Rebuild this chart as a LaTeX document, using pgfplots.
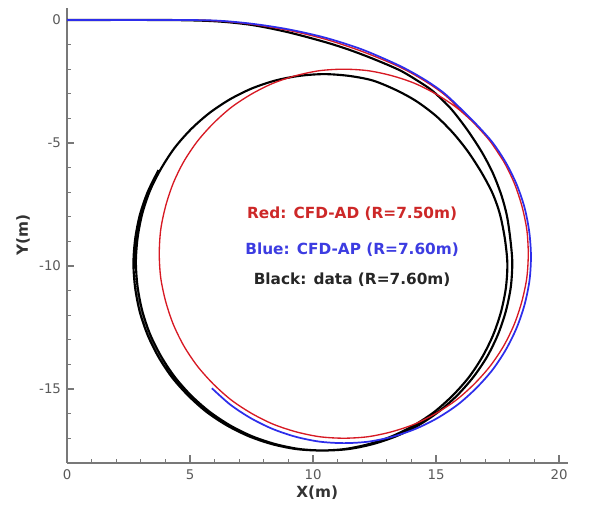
\documentclass[border=0pt]{standalone}
\usepackage{pgfplots}
\pgfplotsset{compat=1.18}
\usepackage{fontspec}
\setmainfont{DejaVu Sans}
\definecolor{cred}{RGB}{215,25,35}
\definecolor{cblue}{RGB}{45,45,235}
\definecolor{lred}{RGB}{205,40,40}
\definecolor{lblue}{RGB}{60,60,225}
\definecolor{axgray}{RGB}{120,120,120}
\begin{document}
\begin{tikzpicture}
\begin{axis}[
  x=18.45pt, y=18.45pt,
  xmin=0, xmax=20.35, ymin=-18, ymax=0.5,
  axis x line=bottom, axis y line=left,
  axis line style={-, line width=1.5pt, axgray},
  clip=false,
  xtick={0,5,10,15,20}, minor xtick={1,2,3,4,6,7,8,9,11,12,13,14,16,17,18,19},
  ytick={-15,-10,-5,0}, minor ytick={-17,-16,-14,-13,-12,-11,-9,-8,-7,-6,-4,-3,-2,-1},
  tick align=inside,
  major tick length=5.5pt, minor tick length=3pt,
  every tick/.style={line width=1pt, axgray},
  tick label style={font=\fontsize{10}{12}\selectfont, text=black!65},
  /pgf/number format/assume math mode=true,
  xticklabel style={yshift=-1.5pt},
  yticklabel style={xshift=-1pt},
  every axis x label/.style={at={(axis description cs:0.5,0)}, anchor=center, yshift=-22.5pt},
  every axis y label/.style={at={(axis description cs:0,0.5)}, xshift=-33pt, rotate=90, anchor=center},
  label style={font=\bfseries\fontsize{11.5}{13}\selectfont, text=black!80},
  xlabel={X(m)}, ylabel={Y(m)},
]
% Black: data
\addplot[black, line width=1.6pt, smooth] coordinates {
(0,0) (4,0) (6,-0.05) (7.5,-0.2) (9,-0.5) (10.5,-0.9) (11.5,-1.22) (12.5,-1.6)
(13.54,-2.05) (14.3,-2.5) (14.88,-2.9) (15.6,-3.6) (16.26,-4.45) (16.85,-5.35)
(17.3,-6.2) (17.65,-7.1) (17.88,-7.95) (18.02,-8.9) (18.10,-9.85)
(18.04,-10.85) (17.84,-11.83) (17.52,-12.78) (17.08,-13.68) (16.52,-14.51)
(15.86,-15.26) (15.11,-15.92) (14.28,-16.48) (13.38,-16.92) (12.43,-17.24)
(11.45,-17.44) (10.45,-17.50) (9.45,-17.44) (8.47,-17.24) (7.52,-16.92)
(6.63,-16.48) (5.79,-15.92) (5.04,-15.26) (4.38,-14.51) (3.83,-13.68)
(3.38,-12.78) (3.06,-11.83) (2.87,-10.85) (2.80,-9.85) (2.87,-8.85)
(3.06,-7.87) (3.38,-6.92) (3.83,-6.03) (4.38,-5.19) (5.04,-4.44) (5.79,-3.78)
(6.63,-3.22) (7.52,-2.78) (8.47,-2.46) (9.45,-2.27) (10.45,-2.20) (11.45,-2.27)
(12.43,-2.46) (13.38,-2.85) (14.2,-3.3) (15.0,-3.9) (15.7,-4.6) (16.3,-5.35)
(16.85,-6.2) (17.3,-7.05) (17.6,-7.9) (17.8,-8.9) (17.9,-9.9)
(17.84,-10.89) (17.64,-11.87) (17.32,-12.81) (16.88,-13.70) (16.33,-14.53)
(15.67,-15.27) (14.93,-15.93) (14.10,-16.48) (13.21,-16.92) (12.27,-17.24)
(11.29,-17.44) (10.30,-17.50) (9.31,-17.44) (8.33,-17.24) (7.39,-16.92)
(6.50,-16.48) (5.67,-15.93) (4.93,-15.27) (4.27,-14.53) (3.72,-13.70)
(3.28,-12.81) (2.96,-11.87) (2.77,-10.89) (2.70,-9.90) (2.77,-8.91)
(2.96,-7.93) (3.28,-6.99) (3.72,-6.10)
};
% Red: CFD-AD
\addplot[cred, line width=1pt, smooth] coordinates {
(0,0) (4,0) (6,-0.03) (7.5,-0.17) (9,-0.42) (10.5,-0.78) (12,-1.28) (13.5,-1.9)
(14.5,-2.45) (15.3,-3.0) (16.0,-3.65) (16.55,-4.20) (17.20,-4.93) (17.75,-5.75)
(18.18,-6.63) (18.49,-7.56) (18.69,-8.52) (18.75,-9.50) (18.69,-10.48)
(18.49,-11.44) (18.18,-12.37) (17.75,-13.25) (17.20,-14.07) (16.55,-14.80)
(15.82,-15.45) (15.00,-15.99) (14.12,-16.43) (13.19,-16.74) (12.23,-16.94)
(11.25,-17.00) (10.27,-16.94) (9.31,-16.74) (8.38,-16.43) (7.50,-15.99)
(6.68,-15.45) (5.95,-14.80) (5.30,-14.07) (4.75,-13.25) (4.32,-12.37)
(4.01,-11.44) (3.81,-10.48) (3.75,-9.50) (3.81,-8.52) (4.01,-7.56) (4.32,-6.63)
(4.75,-5.75) (5.30,-4.93) (5.95,-4.20) (6.68,-3.55) (7.50,-3.01) (8.38,-2.57)
(9.31,-2.26) (10.27,-2.06) (11.25,-2.00) (12.23,-2.06) (13.19,-2.26)
(14.12,-2.57) (15.00,-3.01) (15.82,-3.55) (16.55,-4.20) (17.20,-4.93)
(17.75,-5.75)
};
% Blue: CFD-AP
\addplot[cblue, line width=1.3pt, smooth] coordinates {
(0,0) (4,0) (6,-0.02) (7.5,-0.15) (9,-0.38) (10.5,-0.72) (12,-1.2) (13.5,-1.85)
(14.5,-2.4) (15.3,-2.95) (16.0,-3.6) (16.63,-4.23) (17.29,-4.97) (17.84,-5.80)
(18.28,-6.69) (18.60,-7.63) (18.79,-8.61) (18.86,-9.60) (18.80,-10.59)
(18.60,-11.57) (18.28,-12.51) (17.84,-13.40) (17.29,-14.23) (16.63,-14.97)
(15.89,-15.63) (15.06,-16.18) (14.17,-16.62) (13.23,-16.94) (12.25,-17.14)
(11.26,-17.20) (10.27,-17.14) (9.29,-16.94) (8.35,-16.62) (7.46,-16.18)
(6.63,-15.63) (5.89,-14.97)
};
\node[text=lred, font=\bfseries\fontsize{11.5}{13}\selectfont] at (axis cs:11.59,-7.89) {Red: CFD-AD (R=7.50m)};
\node[text=lblue, font=\bfseries\fontsize{11.5}{13}\selectfont] at (axis cs:11.59,-9.32) {Blue: CFD-AP (R=7.60m)};
\node[text=black!85, font=\bfseries\fontsize{11.5}{13}\selectfont] at (axis cs:11.59,-10.57) {Black: data (R=7.60m)};
\coordinate (bbA) at (axis cs:-2.724,-19.715);
\coordinate (bbB) at (axis cs:21.30,0.813);
\end{axis}
\path (bbA) rectangle (bbB);
\end{tikzpicture}
\end{document}
